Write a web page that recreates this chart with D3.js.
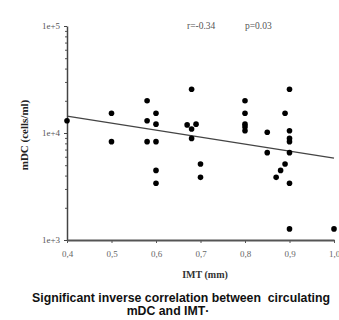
<!DOCTYPE html>
<html>
<head>
<meta charset="utf-8">
<script src="https://cdn.jsdelivr.net/npm/d3@7"></script>
<style>
  body { margin: 0; background: #fff; }
  svg { display: block; }
</style>
</head>
<body>
<div id="chart"></div>
<script>
// IMT (mm) and mDC (cells/ml)
const imt = [0.40, 0.50, 0.50, 0.58, 0.58, 0.58, 0.60, 0.60, 0.60, 0.60, 0.60,
  0.67, 0.68, 0.68, 0.68, 0.69, 0.70, 0.70,
  0.80, 0.80, 0.80, 0.80, 0.80, 0.85, 0.85, 0.87, 0.88, 0.89, 0.89,
  0.90, 0.90, 0.90, 0.90, 0.90, 0.90, 0.90, 1.00];
const mdc = [13000, 15300, 8300, 20000, 13000, 8300, 15300, 12100, 8300, 4470, 3390,
  11900, 25600, 10900, 8900, 12100, 5130, 3850,
  20000, 15300, 12100, 11400, 10500, 10150, 6550, 3850, 4470, 15300, 5130,
  25600, 10500, 8900, 8300, 6550, 3390, 1270, 1270];
const fitX = [0.4, 1.0];
const fitY = [14400, 5830];
const xTicks = [0.4, 0.5, 0.6, 0.7, 0.8, 0.9, 1.0];
const yTicks = [1e3, 1e4, 1e5];
const stats = ['r=-0.34', 'p=0.03'];

const width = 339, height = 320;
const m = { left: 67, right: 334, top: 26, bottom: 240 };

const svg = d3.select('#chart').append('svg')
  .attr('width', width)
  .attr('height', height);

const x = d3.scaleLinear().domain([0.4, 1.0]).range([m.left, m.right]);
const y = d3.scaleLog().domain([1e3, 1e5]).range([m.bottom, m.top]);

const serif = '"Liberation Serif", "DejaVu Serif", serif';
const sans = '"Liberation Sans", Arial, sans-serif';

// minor log ticks
const minor = [];
for (let d = 1e3; d < 1e5; d *= 10) {
  for (let k = 2; k <= 9; k++) minor.push(d * k);
}

svg.append('g')
  .attr('transform', `translate(${m.left},0)`)
  .call(d3.axisLeft(y).tickValues(minor).tickSize(2).tickFormat(''))
  .call(g => g.select('.domain').remove())
  .call(g => g.selectAll('line').attr('stroke', '#555'));

const yAxis = svg.append('g')
  .attr('transform', `translate(${m.left},0)`)
  .call(d3.axisLeft(y).tickValues(yTicks).tickSize(3).tickSizeOuter(0)
    .tickFormat(d => '1e+' + Math.round(Math.log10(d))));
yAxis.select('.domain').attr('stroke', '#444').attr('stroke-width', 1.5);
yAxis.selectAll('line').attr('stroke', '#444');
yAxis.selectAll('text')
  .attr('font-family', serif)
  .attr('font-size', 9)
  .attr('fill', '#555')
  .attr('dx', -1);

const xAxis = svg.append('g')
  .attr('transform', `translate(0,${m.bottom})`)
  .call(d3.axisBottom(x).tickValues(xTicks).tickSize(3).tickSizeOuter(0)
    .tickFormat(d => d3.format('.1f')(d).replace('.', ',')));
xAxis.select('.domain').attr('stroke', '#555').attr('stroke-width', 2);
xAxis.selectAll('line').attr('stroke', '#555');
xAxis.selectAll('text')
  .attr('font-family', serif)
  .attr('font-size', 9)
  .attr('fill', '#666')
  .attr('dy', '1.2em');

// regression line
svg.append('line')
  .attr('x1', x(fitX[0])).attr('y1', y(fitY[0]))
  .attr('x2', x(fitX[1])).attr('y2', y(fitY[1]))
  .attr('stroke', '#444')
  .attr('stroke-width', 1.3);

svg.selectAll('.dot')
  .data(imt)
  .enter()
  .append('circle')
  .attr('class', 'dot')
  .attr('cx', d => x(d))
  .attr('cy', (d, i) => y(mdc[i]))
  .attr('r', 2.8)
  .attr('fill', '#000');

// r and p
svg.selectAll('.stat')
  .data(stats)
  .enter()
  .append('text')
  .attr('x', (d, i) => i === 0 ? 187 : 245)
  .attr('y', 29)
  .attr('font-family', serif)
  .attr('font-size', 9.5)
  .attr('fill', '#555')
  .text(d => d);

svg.append('text')
  .attr('transform', `translate(28,${(m.top + m.bottom) / 2 + 2}) rotate(-90)`)
  .attr('text-anchor', 'middle')
  .attr('font-family', serif)
  .attr('font-weight', 'bold')
  .attr('font-size', 11)
  .attr('fill', '#222')
  .text('mDC (cells/ml)');

svg.append('text')
  .attr('x', 205)
  .attr('y', 278)
  .attr('text-anchor', 'middle')
  .attr('font-family', serif)
  .attr('font-weight', 'bold')
  .attr('font-size', 10)
  .attr('fill', '#333')
  .text('IMT (mm)');

svg.append('text')
  .attr('x', 181)
  .attr('y', 302)
  .attr('text-anchor', 'middle')
  .attr('font-family', sans)
  .attr('font-weight', 'bold')
  .attr('font-size', 12.3)
  .attr('fill', '#111')
  .attr('xml:space', 'preserve')
  .text('Significant inverse correlation between  circulating');

svg.append('text')
  .attr('x', 168)
  .attr('y', 315)
  .attr('text-anchor', 'middle')
  .attr('font-family', sans)
  .attr('font-weight', 'bold')
  .attr('font-size', 12.3)
  .attr('fill', '#111')
  .text('mDC and IMT\u00b7');
</script>
</body>
</html>
